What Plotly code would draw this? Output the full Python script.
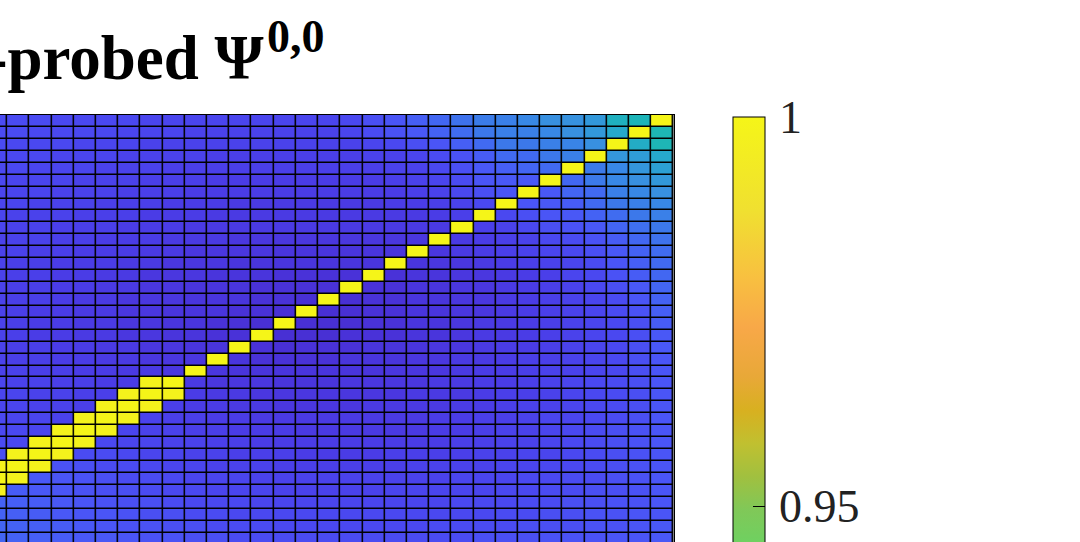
"""Fidelity heatmap with a parula-like scale (cropped view, as in the reference)."""

import numpy as np
import plotly.graph_objects as go

# column / row indices of the visible cells (column -1 and row 35 are partly cut off)
col_idx = list(range(-1, 30))
row_idx = list(range(0, 36))

# fidelity per cell, in per-mille (1000 = 1.0), one list per row, columns -1..29
fid_permille = [
    [865, 865, 865, 864, 864, 864, 864, 863, 863, 863, 863, 863, 863, 863, 863, 863, 864, 866, 868, 871, 874, 878, 882, 884, 888, 892, 893, 896, 908, 910, 1000],
    [865, 865, 864, 864, 864, 864, 863, 863, 863, 862, 862, 862, 862, 862, 862, 862, 863, 865, 867, 869, 872, 876, 880, 884, 884, 888, 892, 896, 904, 1000, 912],
    [865, 864, 864, 864, 863, 863, 863, 862, 862, 862, 862, 862, 862, 862, 862, 862, 862, 863, 864, 866, 868, 871, 875, 880, 880, 884, 886, 892, 1000, 906, 912],
    [864, 864, 864, 863, 863, 863, 862, 862, 862, 862, 861, 861, 861, 861, 861, 861, 861, 862, 862, 863, 865, 867, 870, 875, 875, 880, 884, 1000, 895, 898, 904],
    [864, 864, 863, 863, 863, 862, 862, 862, 861, 861, 861, 861, 861, 861, 861, 861, 861, 861, 862, 862, 864, 866, 869, 871, 873, 875, 1000, 881, 888, 895, 900],
    [864, 863, 863, 863, 862, 862, 862, 861, 861, 861, 860, 860, 860, 860, 860, 860, 860, 860, 861, 862, 863, 865, 868, 869, 869, 1000, 874, 881, 888, 892, 896],
    [863, 863, 863, 862, 862, 862, 861, 861, 861, 860, 860, 860, 860, 860, 860, 860, 860, 860, 860, 861, 862, 864, 866, 868, 1000, 869, 873, 875, 884, 888, 892],
    [863, 863, 862, 862, 862, 861, 861, 861, 860, 860, 860, 859, 859, 859, 859, 859, 859, 859, 860, 860, 861, 862, 864, 1000, 868, 869, 870, 875, 880, 884, 888],
    [863, 862, 862, 862, 861, 861, 861, 860, 860, 860, 859, 859, 859, 859, 859, 859, 859, 859, 859, 859, 860, 861, 1000, 864, 866, 868, 869, 872, 876, 880, 884],
    [863, 862, 862, 861, 861, 861, 860, 860, 860, 859, 859, 859, 859, 859, 859, 859, 859, 859, 859, 859, 859, 1000, 861, 862, 864, 866, 867, 869, 873, 877, 880],
    [862, 862, 862, 861, 861, 860, 860, 860, 859, 859, 859, 858, 858, 858, 858, 858, 858, 858, 858, 858, 1000, 859, 860, 861, 862, 864, 865, 867, 870, 874, 878],
    [862, 862, 861, 861, 860, 860, 860, 859, 859, 858, 858, 858, 858, 857, 857, 857, 857, 857, 857, 1000, 858, 859, 860, 861, 862, 863, 864, 866, 869, 872, 876],
    [862, 861, 861, 860, 860, 860, 859, 859, 858, 858, 858, 857, 857, 857, 857, 857, 857, 857, 1000, 857, 858, 858, 859, 860, 861, 862, 863, 865, 868, 871, 875],
    [862, 861, 861, 860, 860, 859, 859, 858, 858, 858, 857, 857, 857, 856, 856, 856, 856, 1000, 856, 857, 857, 858, 858, 859, 860, 861, 863, 864, 867, 870, 874],
    [862, 861, 861, 860, 860, 859, 859, 858, 858, 857, 857, 857, 856, 856, 856, 856, 1000, 856, 856, 857, 857, 858, 858, 859, 860, 861, 862, 864, 866, 869, 873],
    [862, 861, 861, 860, 859, 859, 858, 858, 858, 857, 857, 857, 856, 856, 855, 1000, 855, 856, 856, 857, 857, 858, 858, 859, 860, 861, 862, 863, 865, 868, 872],
    [862, 861, 860, 860, 859, 859, 858, 858, 857, 857, 857, 856, 856, 855, 1000, 855, 855, 856, 856, 857, 857, 858, 858, 859, 860, 861, 862, 863, 865, 867, 871],
    [862, 861, 860, 860, 859, 859, 858, 858, 857, 857, 856, 856, 855, 1000, 855, 855, 855, 856, 856, 857, 857, 858, 859, 859, 860, 861, 862, 863, 864, 866, 870],
    [862, 861, 860, 860, 859, 859, 858, 858, 857, 857, 856, 856, 1000, 855, 855, 855, 856, 856, 856, 857, 857, 858, 859, 859, 860, 861, 862, 863, 864, 866, 869],
    [862, 861, 861, 860, 860, 859, 859, 858, 858, 857, 857, 1000, 856, 855, 856, 856, 856, 857, 857, 857, 858, 858, 859, 860, 860, 861, 862, 863, 864, 866, 869],
    [862, 861, 861, 860, 860, 859, 859, 858, 858, 858, 1000, 857, 856, 856, 856, 856, 857, 857, 857, 858, 858, 859, 859, 860, 861, 861, 862, 863, 864, 866, 868],
    [862, 862, 861, 861, 860, 860, 859, 859, 858, 1000, 858, 857, 857, 857, 857, 857, 857, 857, 858, 858, 858, 859, 860, 860, 861, 862, 862, 863, 864, 866, 868],
    [863, 862, 862, 861, 861, 860, 860, 998, 1000, 859, 858, 858, 858, 857, 857, 857, 858, 858, 858, 858, 859, 859, 860, 860, 861, 862, 863, 864, 865, 866, 868],
    [863, 863, 862, 862, 861, 861, 998, 1000, 998, 860, 859, 859, 858, 858, 858, 858, 858, 858, 858, 859, 859, 859, 860, 861, 861, 862, 863, 864, 865, 866, 868],
    [863, 863, 862, 862, 861, 998, 1000, 998, 861, 860, 860, 859, 859, 858, 858, 858, 858, 859, 859, 859, 859, 860, 860, 861, 862, 862, 863, 864, 865, 866, 868],
    [864, 863, 863, 862, 998, 1000, 998, 862, 861, 861, 860, 860, 859, 859, 859, 859, 859, 859, 859, 859, 860, 860, 861, 861, 862, 863, 863, 864, 865, 866, 868],
    [864, 864, 863, 998, 1000, 998, 863, 862, 862, 861, 861, 860, 860, 860, 859, 859, 859, 859, 859, 859, 860, 860, 861, 862, 862, 863, 864, 865, 866, 867, 868],
    [865, 864, 998, 1000, 998, 864, 863, 863, 862, 862, 861, 861, 860, 860, 860, 860, 860, 860, 860, 860, 860, 861, 861, 862, 862, 863, 864, 865, 866, 867, 868],
    [866, 998, 1000, 998, 865, 865, 864, 863, 863, 862, 862, 861, 861, 861, 860, 860, 860, 860, 861, 861, 861, 861, 862, 862, 863, 863, 864, 865, 866, 867, 868],
    [998, 1000, 998, 867, 866, 865, 865, 864, 863, 863, 862, 862, 862, 861, 861, 861, 861, 861, 861, 862, 862, 862, 862, 863, 863, 864, 864, 865, 866, 867, 868],
    [1000, 998, 869, 868, 867, 866, 865, 865, 864, 863, 863, 863, 862, 862, 862, 862, 862, 862, 862, 862, 862, 863, 863, 863, 864, 864, 865, 865, 866, 867, 868],
    [998, 870, 869, 868, 867, 866, 866, 865, 864, 864, 863, 863, 863, 862, 862, 862, 862, 862, 863, 863, 863, 863, 863, 864, 864, 865, 865, 866, 866, 867, 868],
    [872, 871, 870, 869, 868, 867, 866, 866, 865, 864, 864, 864, 863, 863, 863, 863, 863, 863, 863, 863, 863, 864, 864, 864, 865, 865, 866, 866, 867, 867, 868],
    [872, 871, 870, 869, 868, 868, 867, 866, 866, 865, 865, 864, 864, 864, 864, 864, 864, 864, 864, 864, 864, 864, 864, 865, 865, 866, 866, 867, 867, 868, 868],
    [873, 872, 871, 870, 869, 868, 867, 867, 866, 866, 865, 865, 865, 864, 864, 864, 864, 864, 864, 864, 865, 865, 865, 865, 866, 866, 866, 867, 867, 868, 869],
    [873, 872, 871, 870, 869, 869, 868, 867, 867, 866, 866, 865, 865, 865, 865, 865, 865, 865, 865, 865, 865, 865, 866, 866, 866, 867, 867, 867, 868, 868, 869],
]

Z_MIN, Z_MAX = 0.845, 1.0

# colour anchors (fidelity value, colour) of the scale
scale_values = [0.845, 0.852, 0.856, 0.860, 0.864, 0.868, 0.872, 0.876, 0.880, 0.884,
                0.888, 0.892, 0.896, 0.904, 0.910, 0.920, 0.935, 0.9456, 0.9495, 0.9537,
                0.958, 0.9623, 0.9666, 0.973, 0.9794, 0.988, 1.0]
scale_colors = ["#3a1ca8", "#4428c8", "#4932d8", "#4a3ce6", "#4a48f0", "#4a55f6", "#4462f4",
                "#406cf0", "#3c78ea", "#3a80e8", "#3888e6", "#3890e0", "#3298da", "#26a8cc",
                "#1cb4b8", "#28bca8", "#50c880", "#70d060", "#80c858", "#a0c040", "#c0c030",
                "#d8b020", "#e8a838", "#f8a848", "#f8c040", "#f0e030", "#f5f518"]

W, H = 1080, 542
TOP = 115          # px, top edge of the heatmap
RIGHT = 673.5      # px, right edge of the heatmap
SERIF = "Liberation Serif, DejaVu Serif, serif"


def paper_y(px):
    """Pixel row (from the top of the figure) -> paper y."""
    return (H - px) / (H - TOP)


z = np.array(fid_permille) / 1000.0
colorscale = [[(v - Z_MIN) / (Z_MAX - Z_MIN), c] for v, c in zip(scale_values, scale_colors)]

px_per_unit = (506 - 117) / 0.05   # colorbar: 1 at y=117px, 0.95 at y=506px

fig = go.Figure()
fig.add_trace(
    go.Heatmap(
        x=col_idx,
        y=row_idx,
        z=z,
        zmin=Z_MIN,
        zmax=Z_MAX,
        colorscale=colorscale,
        xgap=1.5,
        ygap=1.5,
        hoverinfo="skip",
        colorbar=dict(
            x=733 / W,
            xanchor="left",
            xpad=0,
            y=paper_y(117),
            yanchor="top",
            ypad=0,
            lenmode="pixels",
            len=(Z_MAX - Z_MIN) * px_per_unit,
            thickness=32,
            outlinecolor="black",
            outlinewidth=1,
            tickvals=[0.95, 1.0],
            ticktext=["\u200a0.95", "\u200a1"],
            ticks="inside",
            ticklen=12,
            tickcolor="black",
            tickfont=dict(family=SERIF, size=46, color="#222"),
        ),
    )
)

# title, cut off at the left edge like in the source figure
fig.add_annotation(
    text="<b>Fidelity-probed Ψ</b>",
    xref="paper",
    yref="paper",
    x=266 / W,
    y=paper_y(94.5),
    xanchor="right",
    yanchor="bottom",
    showarrow=False,
    font=dict(family=SERIF, size=63, color="black"),
)
fig.add_annotation(
    text="<b>0,0</b>",
    xref="paper",
    yref="paper",
    x=265 / W,
    y=paper_y(64),
    xanchor="left",
    yanchor="bottom",
    showarrow=False,
    font=dict(family=SERIF, size=46, color="black"),
)

fig.update_xaxes(
    domain=[0, RIGHT / W],
    range=[-0.83, 29.5],
    showticklabels=False,
    ticks="",
    showgrid=False,
    zeroline=False,
    showline=True,
    linecolor="black",
    linewidth=1,
    mirror=True,
)
fig.update_yaxes(
    range=[35.29, -0.5],
    showticklabels=False,
    ticks="",
    showgrid=False,
    zeroline=False,
    showline=True,
    linecolor="black",
    linewidth=1,
    mirror=True,
)
fig.update_layout(
    width=W,
    height=H,
    margin=dict(l=0, r=0, t=TOP, b=0, autoexpand=False),
    paper_bgcolor="white",
    plot_bgcolor="black",
    showlegend=False,
)

# drop the browser's default body margin so the figure sits at the page corner
fig.write_html(
    "out.html",
    config={"displayModeBar": False},
    post_script="document.body.style.margin = '0';",
)
